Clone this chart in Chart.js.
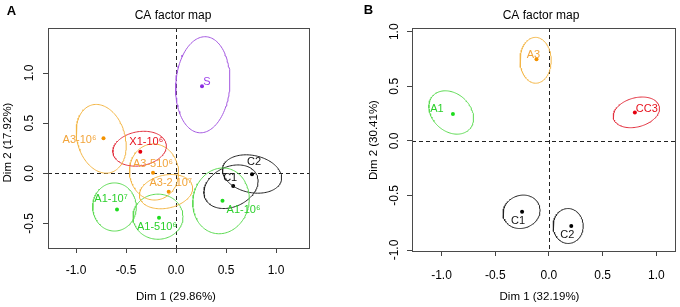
<!DOCTYPE html>
<html><head><meta charset="utf-8">
<script src="https://cdn.jsdelivr.net/npm/chart.js@4.4.0/dist/chart.umd.min.js"></script>
<style>
html,body{margin:0;padding:0;background:#fff;overflow:hidden;width:680px;height:307px;}
.pane{position:absolute;top:0;width:340px;height:307px;}
#wa{left:0}
#wb{left:340px}
canvas{display:block}
</style></head><body>
<div class="pane" id="wa"><canvas id="ca" width="340" height="307"></canvas></div>
<div class="pane" id="wb"><canvas id="cb" width="340" height="307"></canvas></div>
<script>
// ---------------- Panel A data ----------------
const namesA = ['S', 'A3-10⁶', 'X1-10⁶', 'A3-510⁶', 'A3-2 10⁷', 'A1-10⁷', 'A1-510⁶', 'A1-10⁶', 'C1', 'C2'];
const groupA = ['S', 'A3', 'X1', 'A3', 'A3', 'A1', 'A1', 'A1', 'C', 'C'];
const dim1A = [0.26, -0.725, -0.357, -0.23, -0.073, -0.59, -0.17, 0.465, 0.572, 0.76];
const dim2A = [0.868, 0.349, 0.215, 0.006, -0.183, -0.36, -0.443, -0.273, -0.127, -0.01];
// confidence ellipses: centre, semi-axes and tilt (degrees)
const ellCxA  = [0.268, -0.748, -0.364, -0.22, -0.10, -0.615, -0.18, 0.45, 0.55, 0.76];
const ellCyA  = [0.883, 0.344, 0.245, 0.013, -0.183, -0.336, -0.433, -0.275, -0.134, -0.007];
const ellMajA = [0.48, 0.35, 0.27, 0.28, 0.27, 0.24, 0.25, 0.33, 0.284, 0.30];
const ellMinA = [0.27, 0.24, 0.17, 0.245, 0.165, 0.218, 0.225, 0.28, 0.20, 0.185];
const ellAngA = [86, 106, 10, 95, 12, 90, 0, 78, 25, -12];
const xTicksA = [-1.0, -0.5, 0.0, 0.5, 1.0];
const yTicksA = [-0.5, 0.0, 0.5, 1.0];

// ---------------- Panel B data ----------------
const namesB = ['A1', 'A3', 'CC3', 'C1', 'C2'];
const groupB = ['A1', 'A3', 'X1', 'C', 'C'];
const dim1B = [-0.894, -0.116, 0.80, -0.25, 0.208];
const dim2B = [0.245, 0.747, 0.26, -0.65, -0.78];
const ellCxB  = [-0.91, -0.124, 0.814, -0.255, 0.179];
const ellCyB  = [0.26, 0.738, 0.261, -0.65, -0.78];
const ellMajB = [0.229, 0.21, 0.22, 0.175, 0.16];
const ellMinB = [0.174, 0.145, 0.133, 0.15, 0.14];
const ellAngB = [-40, 90, 15, 20, 90];
const xTicksB = [-1.0, -0.5, 0.0, 0.5, 1.0];
const yTicksB = [-1.0, -0.5, 0.0, 0.5, 1.0];

// ---------------- styling / layout ----------------
const COL = {
  A3: {dot: '#F39200', text: '#F2A43A', line: '#F3B646'},
  X1: {dot: '#E4000F', text: '#E8101C', line: '#E2303E'},
  A1: {dot: '#1EDC1E', text: '#2CD02C', line: '#5CDA52'},
  C:  {dot: '#000000', text: '#111111', line: '#222222'},
  S:  {dot: '#8A2BE2', text: '#9B3BEA', line: '#A458E0'}
};
const labelOffA = [[5,-4],[-24,2],[6,-10],[0,-9],[2,-9],[-6,-10],[-2,9],[21,9],[-3,-8],[2,-12]];
const labelOffB = [[-16,-5],[-3,-4],[12,-4],[-4,9],[-4,9]];

Chart.defaults.font.family = "'Liberation Sans', Arial, Helvetica, sans-serif";
Chart.defaults.color = '#000';

function ellipsePts(cx, cy, a, b, deg) {
  const t = deg * Math.PI / 180, pts = [];
  for (let k = 0; k <= 120; k++) {
    const u = 2 * Math.PI * k / 120;
    pts.push({
      x: cx + a * Math.cos(t) * Math.cos(u) - b * Math.sin(t) * Math.sin(u),
      y: cy + a * Math.sin(t) * Math.cos(u) + b * Math.cos(t) * Math.sin(u)
    });
  }
  return pts;
}

function makePanel(canvasId, d, L) {
  const datasets = [];
  for (let i = 0; i < d.cx.length; i++) {
    datasets.push({
      data: ellipsePts(d.cx[i], d.cy[i], d.maj[i], d.min[i], d.ang[i]),
      showLine: true, fill: false, tension: 0, pointRadius: 0, pointHoverRadius: 0,
      borderColor: COL[d.group[i]].line, borderWidth: 1
    });
  }
  datasets.push({
    data: d.x.map((v, i) => ({x: v, y: d.y[i]})),
    showLine: false, pointRadius: 2, pointBorderWidth: 0,
    pointBackgroundColor: d.group.map(g => COL[g].dot),
    pointBorderColor: d.group.map(g => COL[g].dot)
  });

  const panelPlugin = {
    id: 'panel' + canvasId,
    beforeDatasetsDraw(chart) {
      const {ctx, chartArea: a, scales: {x, y}} = chart;
      ctx.save();
      ctx.strokeStyle = '#222';
      ctx.lineWidth = 1;
      ctx.setLineDash([4, 3]);
      const x0 = Math.round(x.getPixelForValue(0)) + 0.5;
      const y0 = Math.round(y.getPixelForValue(0)) + 0.5;
      ctx.beginPath(); ctx.moveTo(x0, a.top); ctx.lineTo(x0, a.bottom); ctx.stroke();
      ctx.beginPath(); ctx.moveTo(a.left, y0); ctx.lineTo(a.right, y0); ctx.stroke();
      ctx.setLineDash([]);
      ctx.strokeStyle = '#4a4a4a';
      ctx.strokeRect(Math.round(a.left) + 0.5, Math.round(a.top) + 0.5,
                     Math.round(a.right) - Math.round(a.left) - 1, Math.round(a.bottom) - Math.round(a.top));
      ctx.restore();
    },
    afterDatasetsDraw(chart) {
      const {ctx, scales: {x, y}} = chart;
      ctx.save();
      ctx.font = "11px 'Liberation Sans', Arial, sans-serif";
      ctx.textAlign = 'center';
      ctx.textBaseline = 'middle';
      d.names.forEach((n, i) => {
        ctx.fillStyle = COL[d.group[i]].text;
        ctx.fillText(n, x.getPixelForValue(d.x[i]) + L.off[i][0], y.getPixelForValue(d.y[i]) + L.off[i][1]);
      });
      ctx.restore();
    },
    afterDraw(chart) {
      const ctx = chart.ctx;
      ctx.save();
      ctx.fillStyle = '#000';
      ctx.textBaseline = 'middle';
      ctx.textAlign = 'center';
      ctx.font = "bold 13px 'Liberation Sans', Arial, sans-serif";
      ctx.fillText(L.letter, L.letterPos[0], L.letterPos[1]);
      ctx.font = "12px 'Liberation Sans', Arial, sans-serif";
      ctx.fillText('CA factor map', L.titlePos[0], L.titlePos[1]);
      ctx.font = "11.5px 'Liberation Sans', Arial, sans-serif";
      ctx.fillText(L.xTitle, L.xTitlePos[0], L.xTitlePos[1]);
      ctx.translate(L.yTitlePos[0], L.yTitlePos[1]);
      ctx.rotate(-Math.PI / 2);
      ctx.fillText(L.yTitle, 0, 0);
      ctx.restore();
    }
  };

  const fmt = v => Number(v).toFixed(1);
  return new Chart(document.getElementById(canvasId), {
    type: 'scatter',
    data: {datasets},
    options: {
      responsive: false, animation: false, devicePixelRatio: 1,
      events: [],
      layout: {padding: {left: 0, top: L.top, right: L.right, bottom: 0}},
      plugins: {legend: {display: false}, tooltip: {enabled: false}, title: {display: false}},
      scales: {
        x: {
          type: 'linear', min: L.xmin, max: L.xmax,
          afterBuildTicks: s => { s.ticks = d.xt.map(v => ({value: v})); },
          afterFit: s => { s.height = L.xh; s.paddingLeft = s.paddingRight = 0; },
          grid: {display: true, drawOnChartArea: false, drawTicks: true, tickLength: 5, color: '#444'},
          border: {display: false},
          ticks: {padding: L.xpad, maxRotation: 0, autoSkip: false, color: '#000',
                  font: {size: 12}, callback: fmt}
        },
        y: {
          type: 'linear', min: L.ymin, max: L.ymax,
          afterBuildTicks: s => { s.ticks = d.yt.map(v => ({value: v})); },
          afterFit: s => { s.width = L.yw; s.paddingTop = s.paddingBottom = 0; },
          grid: {display: true, drawOnChartArea: false, drawTicks: true, tickLength: 5, color: '#444'},
          border: {display: false},
          ticks: {padding: L.ypad, minRotation: 90, maxRotation: 90, crossAlign: 'center',
                  autoSkip: false, color: '#000', font: {size: 12}, callback: fmt}
        }
      }
    },
    plugins: [panelPlugin]
  });
}

makePanel('ca', {
  names: namesA, group: groupA, x: dim1A, y: dim2A,
  cx: ellCxA, cy: ellCyA, maj: ellMajA, min: ellMinA, ang: ellAngA, xt: xTicksA, yt: yTicksA
}, {
  off: labelOffA, letter: 'A', letterPos: [11.5, 11.5], titlePos: [173, 16],
  xTitle: 'Dim 1 (29.86%)', xTitlePos: [176, 297], yTitle: 'Dim 2 (17.92%)', yTitlePos: [8, 142.5],
  top: 28, right: 30, yw: 48, xh: 59, xmin: -1.28, xmax: 1.34, ymin: -0.745, ymax: 1.449,
  xpad: 10, ypad: 3
});

makePanel('cb', {
  names: namesB, group: groupB, x: dim1B, y: dim2B,
  cx: ellCxB, cy: ellCyB, maj: ellMajB, min: ellMinB, ang: ellAngB, xt: xTicksB, yt: yTicksB
}, {
  off: labelOffB, letter: 'B', letterPos: [28.5, 10], titlePos: [201, 16],
  xTitle: 'Dim 1 (32.19%)', xTitlePos: [199.5, 297], yTitle: 'Dim 2 (30.41%)', yTitlePos: [34, 140],
  top: 28, right: 0, yw: 72, xh: 56, xmin: -1.275, xmax: 1.183, ymin: -1.009, ymax: 1.034,
  xpad: 12.5, ypad: 2
});
</script>
</body></html>
